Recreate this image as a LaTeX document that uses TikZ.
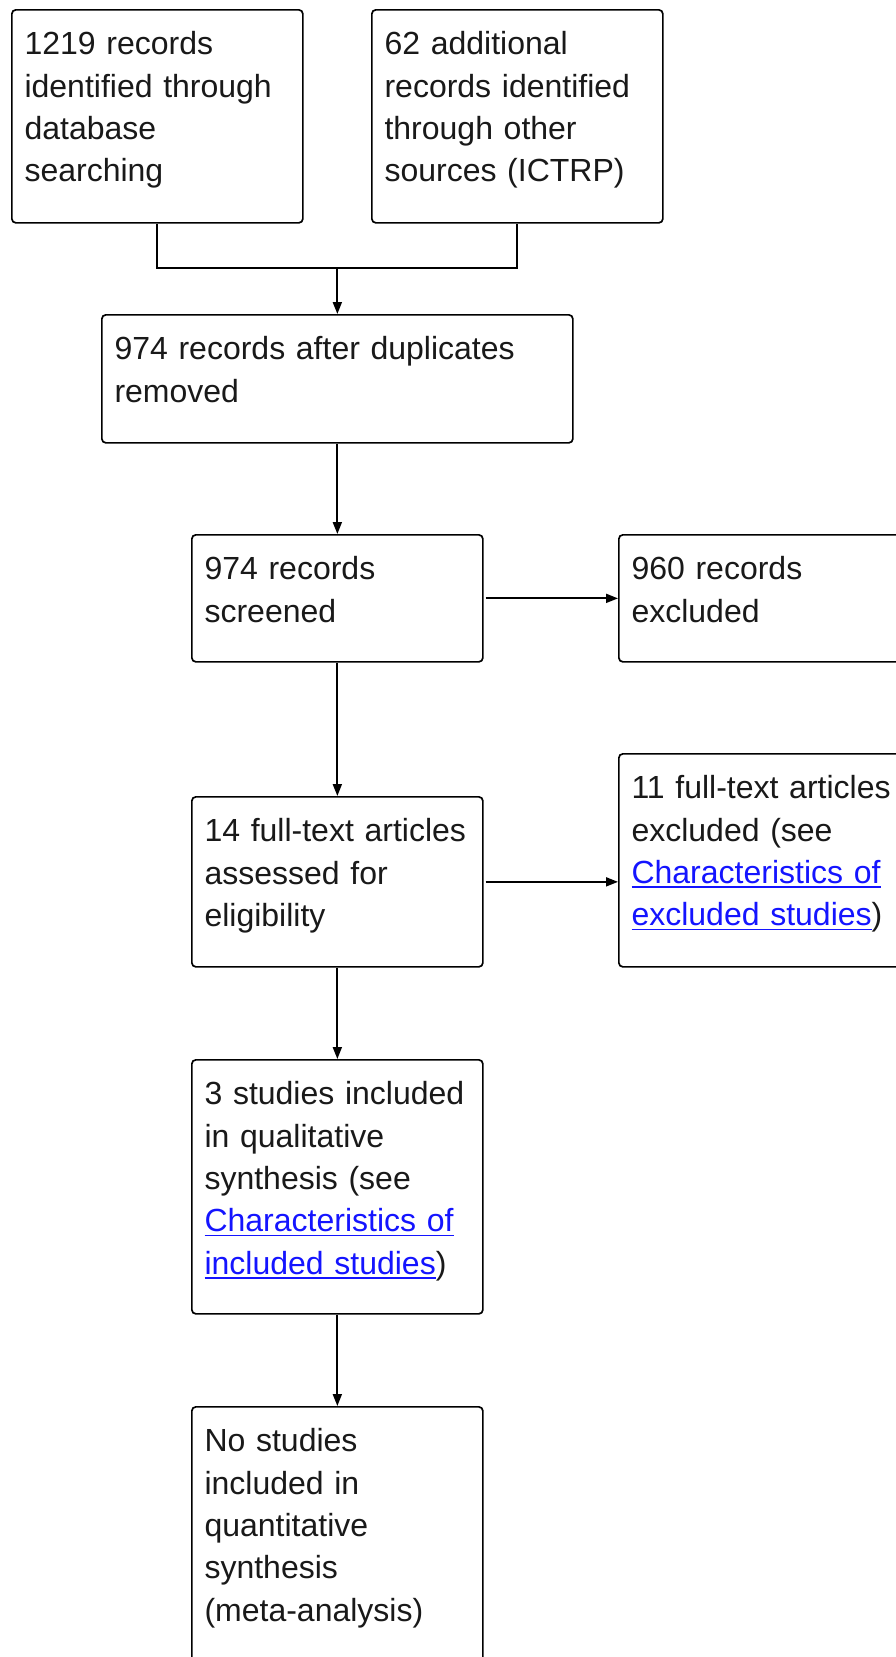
\documentclass[tikz,border=0pt]{standalone}
\usepackage{fontspec}
\setmainfont{Liberation Sans}
\usetikzlibrary{arrows.meta,positioning}
\definecolor{linkblue}{RGB}{20,20,255}
\definecolor{inktext}{RGB}{25,25,25}
\newcommand{\linktext}[1]{\leavevmode{\color{linkblue}\setbox0\hbox{#1}\rlap{\rule[-4.5pt]{\wd0}{1.6pt}}\box0}}

\begin{document}
\begin{tikzpicture}[x=1pt,y=-1pt,
	box/.style={draw,line width=1.7pt,rounded corners=4pt,anchor=north west,inner xsep=12.7pt,inner ysep=0pt,
		text width=265.6pt,align=left,text height=45pt,text=inktext,font=\fontsize{32}{42.3}\selectfont},
	flow/.style={line width=1.8pt,-{Triangle[length=12pt,width=9pt]}},
	mergeline/.style={line width=1.8pt}]
	\useasboundingbox[fill=white] (0,0) rectangle (896,1657);

	\node[box,text depth=168pt]              (db)       at (11,9)     {1219 records\\identified through\\database\\searching};
	\node[box,text depth=168pt]              (other)    at (371,9)    {62 additional\\records identified\\through other\\sources (ICTRP)};
	\node[box,text depth=83pt,text width=445.6pt] (dedup) at (101,314) {974 records after duplicates\\removed};
	\node[box,text depth=82pt]               (screened) at (191,534)  {974 records\\screened};
	\node[box,text depth=82pt]               (excl)     at (618,534)  {960 records\\excluded};
	\node[box,text depth=125pt]              (fulltext) at (191,796)  {14 full-text articles\\assessed for\\eligibility};
	\node[box,text depth=168pt]              (ftexcl)   at (618,753)  {11 full-text articles\\excluded (see\\\linktext{Characteristics of}\\\linktext{excluded studies})};
	\node[box,text depth=209pt]              (qual)     at (191,1059) {3 studies included\\in qualitative\\synthesis (see\\\linktext{Characteristics of}\\\linktext{included studies})};
	\node[box,text depth=255pt]              (quant)    at (191,1406) {No studies\\included in\\quantitative\\synthesis\\(meta-analysis)};

	\coordinate (merge) at (dedup.north |- 0,268);
	\draw[mergeline] (db.south) |- (merge) -| (other.south);
	\draw[flow] (merge) -- (dedup.north);
	\draw[flow] (dedup.south) -- (screened.north);
	\draw[flow,shorten <=2pt] (screened.east) -- (excl.west);
	\draw[flow] (screened.south) -- (fulltext.north);
	\draw[flow,shorten <=2pt] (fulltext.east) -- (fulltext.east -| ftexcl.west);
	\draw[flow] (fulltext.south) -- (qual.north);
	\draw[flow] (qual.south) -- (quant.north);
\end{tikzpicture}
\end{document}
